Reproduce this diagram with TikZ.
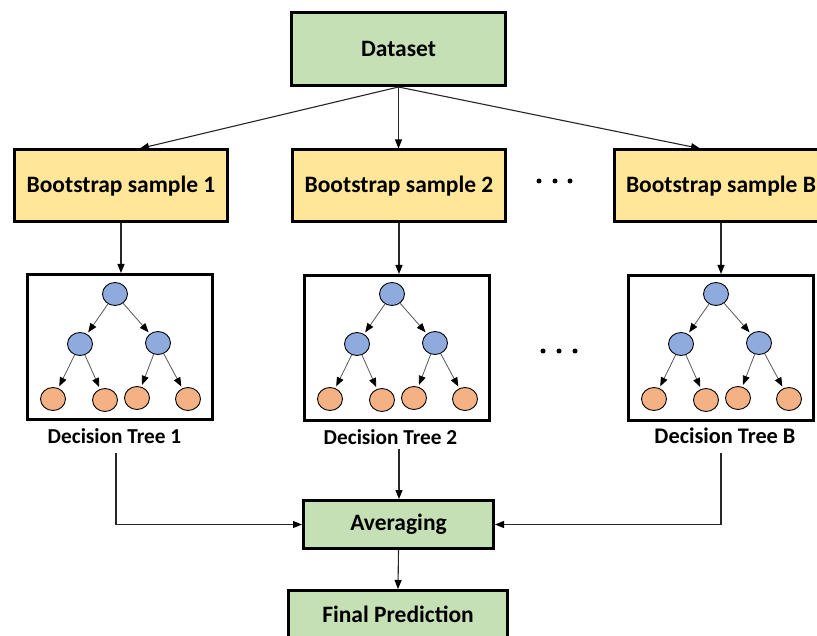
\documentclass[tikz,border=0pt]{standalone}
\usepackage{fontspec}
\setmainfont{Carlito}
\usetikzlibrary{arrows.meta,shapes.geometric}

\definecolor{boxgreen}{HTML}{C5E0B4}
\definecolor{boxyellow}{HTML}{FFE699}
\definecolor{nodeblue}{HTML}{8FAADC}
\definecolor{leaforange}{HTML}{F4B183}

% One small decision tree: #1 name prefix, #2 centre x of its frame
\newcommand{\smalltree}[2]{%
  \node[inner] (#1r)  at (#2-5,294) {};
  \node[inner] (#1a)  at (#2-40,344) {};
  \node[inner] (#1b)  at (#2+38,343) {};
  \node[leaf]  (#1l1) at (#2-67,399) {};
  \node[leaf]  (#1l2) at (#2-15,400) {};
  \node[leaf]  (#1l3) at (#2+17,398) {};
  \node[leaf]  (#1l4) at (#2+68,399) {};
  \draw[branch] (#1r) -- (#1a);
  \draw[branch] (#1r) -- (#1b);
  \draw[branch] (#1a) -- (#1l1);
  \draw[branch] (#1a) -- (#1l2);
  \draw[branch] (#1b) -- (#1l3);
  \draw[branch] (#1b) -- (#1l4);
}

\begin{document}
\begin{tikzpicture}[x=1pt,y=-1pt,
  block/.style={draw=black, line width=3pt, font=\fontsize{23.5}{28}\selectfont\bfseries,
                inner sep=0pt},
  greenbox/.style={block, fill=boxgreen},
  yellowbox/.style={block, fill=boxyellow, minimum width=213pt, minimum height=72pt},
  treeframe/.style={draw=black, line width=3pt, fill=white, minimum width=185pt, minimum height=145pt},
  inner/.style={ellipse, draw=black, line width=0.9pt, fill=nodeblue, minimum width=25pt, minimum height=23pt, inner sep=0pt},
  leaf/.style={ellipse, draw=black, line width=0.9pt, fill=leaforange, minimum width=25pt, minimum height=23pt, inner sep=0pt},
  branch/.style={draw=black!65, line width=0.8pt, shorten >=2pt,
                 -{Triangle[length=9pt,width=7pt,color=black]}},
  flow/.style={draw=black!85, line width=1.1pt, -{Triangle[length=9pt,width=7pt,color=black]}},
  label/.style={font=\fontsize{21.3}{25}\selectfont\bfseries, inner sep=0pt},
  dot/.style={circle, fill=black, minimum size=5pt, inner sep=0pt}
]
\useasboundingbox (0,0) rectangle (817,636);
\clip (0,0) rectangle (817,636);

% top and bottom stages
\node[greenbox, minimum width=214pt, minimum height=73pt] (ds) at (398.5,49) {Dataset};

\node[yellowbox] (b1) at (121,186) {Bootstrap sample 1};
\node[yellowbox] (b2) at (399,186) {Bootstrap sample 2};
\node[yellowbox] (bB) at (721,186) {Bootstrap sample B};

\node[dot] (d1) at (539,181) {};
\node[dot] (d2) at (555,181) {};
\node[dot] (d3) at (570,181) {};

% tree frames
\node[treeframe] (t1) at (120,347) {};
\node[treeframe] (t2) at (397,348) {};
\node[treeframe] (tB) at (721,348) {};

\smalltree{p}{120}
\smalltree{q}{397}
\smalltree{s}{721}

\node[dot] (e1) at (543,351) {};
\node[dot] (e2) at (559,351) {};
\node[dot] (e3) at (575,351) {};

\node[label] (lab1) at (114.5,436) {Decision Tree 1};
\node[label] (lab2) at (390.5,437) {Decision Tree 2};
\node[label, font=\fontsize{22.3}{26}\selectfont\bfseries] (labB) at (725,436) {Decision Tree B};

\node[greenbox, minimum width=190pt, minimum height=48pt] (avg) at (398.5,524.5) {Averaging};
\node[greenbox, minimum width=219pt, minimum height=48pt] (fin) at (398,614.5) {Final Prediction};

% dataset to bootstrap samples
\draw[flow] (ds.south) -- ([xshift=19pt]b1.north);
\draw[flow] (ds.south) -- (ds.south |- b2.north);
\draw[flow] (ds.south) -- ([xshift=-21pt]bB.north);

% bootstrap samples to trees
\draw[flow] (b1.south) -- (b1.south |- t1.north);
\draw[flow] (b2.south) -- (b2.south |- t2.north);
\draw[flow] (bB.south) -- (bB.south |- tB.north);

% trees to averaging
\coordinate (c1) at (116,453);
\coordinate (c2) at (399,449);
\coordinate (cB) at (721,453);
\draw[flow] (c1) |- (avg.west);
\draw[flow] (c2) -- (c2 |- avg.north);
\draw[flow] (cB) |- (avg.east);

\draw[flow] (avg.south) -- (fin.north);
\end{tikzpicture}
\end{document}
